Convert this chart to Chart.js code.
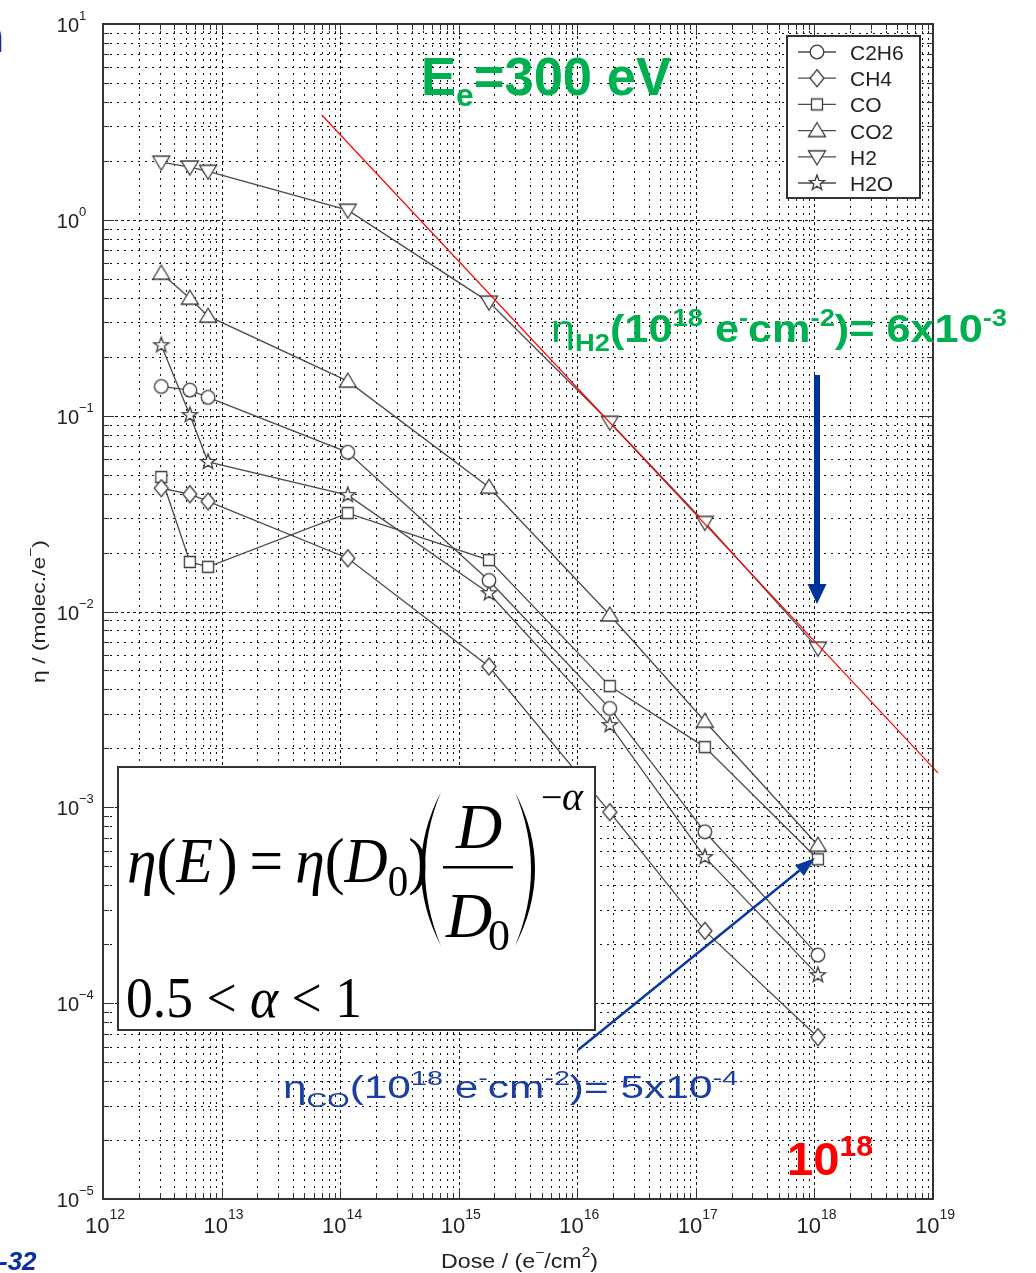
<!DOCTYPE html>
<html>
<head>
<meta charset="utf-8">
<script src="https://cdn.jsdelivr.net/npm/chart.js@4.4.0/dist/chart.umd.min.js"></script>
<style>
  html, body { margin: 0; padding: 0; background: #fff; }
  #wrap { width: 1036px; height: 1273px; }
</style>
</head>
<body>
<div id="wrap"><canvas id="grafico" width="1036" height="1273"></canvas></div>
<script>
// DATI
const dosi = [3.1e12, 5.4e12, 7.7e12, 1.16e14, 1.8e15, 1.88e16, 1.19e17, 1.07e18];
const etaC2H6 = [0.141, 0.135, 0.124, 0.065, 0.0144, 0.0032, 0.00075, 0.000176];
const etaCH4 = [0.0426, 0.0397, 0.0365, 0.0187, 0.00524, 0.000945, 0.000234, 0.000067];
const etaCO = [0.0486, 0.0179, 0.0169, 0.0318, 0.0183, 0.00416, 0.00203, 0.000543];
const etaCO2 = [0.534, 0.398, 0.322, 0.150, 0.0431, 0.0096, 0.00275, 0.00064];
const etaH2 = [1.97, 1.86, 1.77, 1.12, 0.38, 0.0925, 0.0285, 0.0065];
const etaH2O = [0.229, 0.1007, 0.058, 0.0393, 0.0124, 0.00263, 0.000557, 0.000139];
const nomiSerie = ['C2H6', 'CH4', 'CO', 'CO2', 'H2', 'H2O'];
const markerSerie = ['cerchio', 'rombo', 'quadrato', 'triSu', 'triGiu', 'stella'];

// retta rossa (fit H2)
const dosiFit = [7.0e13, 1.1e19];
const etaFit = [3.43, 1.5e-3];

// esponenti delle etichette degli assi
const espX = [12, 13, 14, 15, 16, 17, 18, 19];
const espY = [-5, -4, -3, -2, -1, 0, 1];

const GRIGIO = '#4a4a4a';
const VERDE = '#00b050';

// MARKER STILE MATLAB
function creaMarker(tipo) {
  const c = document.createElement('canvas');
  c.width = 22; c.height = 22;
  const g = c.getContext('2d');
  g.translate(11, 11);
  g.fillStyle = '#fff';
  g.strokeStyle = '#3c3c3c';
  g.lineWidth = 1.3;
  g.beginPath();
  if (tipo === 'cerchio') g.arc(0, 0, 6.8, 0, 2 * Math.PI);
  else if (tipo === 'rombo') { g.moveTo(0, -8.5); g.lineTo(7, 0); g.lineTo(0, 8.5); g.lineTo(-7, 0); g.closePath(); }
  else if (tipo === 'quadrato') g.rect(-5.5, -5.5, 11, 11);
  else if (tipo === 'triSu') { g.moveTo(0, -8); g.lineTo(8.5, 6); g.lineTo(-8.5, 6); g.closePath(); }
  else if (tipo === 'triGiu') { g.moveTo(0, 8); g.lineTo(8.5, -6); g.lineTo(-8.5, -6); g.closePath(); }
  else if (tipo === 'stella') {
    for (let i = 0; i < 10; i++) {
      const r = i % 2 === 0 ? 8 : 3.3;
      const a = -Math.PI / 2 + i * Math.PI / 5;
      if (i === 0) g.moveTo(r * Math.cos(a), r * Math.sin(a));
      else g.lineTo(r * Math.cos(a), r * Math.sin(a));
    }
    g.closePath();
  }
  g.fill();
  g.stroke();
  return c;
}
const immaginiMarker = markerSerie.map(creaMarker);

// TESTO CON PEDICI/APICI, eventualmente adattato a una larghezza
function testoRicco(ctx, x, y, pezzi, colore, larghezza) {
  ctx.save();
  ctx.textAlign = 'left';
  ctx.textBaseline = 'alphabetic';
  let tot = 0;
  pezzi.forEach(p => { ctx.font = p[1]; tot += ctx.measureText(p[0]).width; });
  const sx = larghezza ? larghezza / tot : 1;
  ctx.translate(x, y);
  ctx.scale(sx, 1);
  ctx.fillStyle = colore;
  let cx = 0;
  pezzi.forEach(p => {
    ctx.font = p[1];
    ctx.fillText(p[0], cx, p[2] || 0);
    cx += ctx.measureText(p[0]).width;
  });
  ctx.restore();
  return tot * sx;
}

function freccia(ctx, x0, y0, x1, y1, spessore, lungTesta, largTesta, colore) {
  const dx = x1 - x0, dy = y1 - y0;
  const L = Math.hypot(dx, dy);
  const ux = dx / L, uy = dy / L;
  const bx = x1 - ux * lungTesta, by = y1 - uy * lungTesta;
  ctx.save();
  ctx.strokeStyle = colore; ctx.fillStyle = colore;
  ctx.lineWidth = spessore;
  ctx.setLineDash([]);
  ctx.beginPath(); ctx.moveTo(x0, y0); ctx.lineTo(bx, by); ctx.stroke();
  ctx.beginPath();
  ctx.moveTo(x1, y1);
  ctx.lineTo(bx - uy * largTesta, by + ux * largTesta);
  ctx.lineTo(bx + uy * largTesta, by - ux * largTesta);
  ctx.closePath();
  ctx.fill();
  ctx.restore();
}

// valori 1..9 x 10^e per griglia e tacche
function valoriLog(eMin, eMax) {
  const out = [];
  for (let e = eMin; e < eMax; e++) {
    for (let m = 1; m <= 9; m++) out.push({ v: m * Math.pow(10, e), major: m === 1 });
  }
  out.push({ v: Math.pow(10, eMax), major: true });
  return out;
}

// GRIGLIA (sotto i dati)
const pluginGriglia = {
  id: 'griglia',
  beforeDatasetsDraw(chart) {
    const { ctx, chartArea: a, scales: { x, y } } = chart;
    ctx.save();
    ctx.strokeStyle = '#111';
    ctx.lineWidth = 1;
    valoriLog(12, 19).forEach(t => {
      const px = Math.round(x.getPixelForValue(t.v)) + 0.5;
      ctx.setLineDash(t.major ? [3, 3] : [2, 5]);
      ctx.beginPath(); ctx.moveTo(px, a.top); ctx.lineTo(px, a.bottom); ctx.stroke();
    });
    valoriLog(-5, 1).forEach(t => {
      const py = Math.round(y.getPixelForValue(t.v)) + 0.5;
      ctx.setLineDash(t.major ? [3, 3] : [2, 5]);
      ctx.beginPath(); ctx.moveTo(a.left, py); ctx.lineTo(a.right, py); ctx.stroke();
    });
    ctx.restore();
  }
};

// CORNICE, ETICHETTE, LEGENDA E ANNOTAZIONI
const pluginAnnotazioni = {
  id: 'annotazioni',
  afterDraw(chart) {
    const { ctx, chartArea: a, scales: { x, y } } = chart;
    ctx.save();
    ctx.setLineDash([]);

    // tacche interne sui quattro lati
    ctx.strokeStyle = '#333';
    ctx.lineWidth = 1;
    valoriLog(12, 19).forEach(t => {
      const px = Math.round(x.getPixelForValue(t.v)) + 0.5;
      const L = t.major ? 11 : 6;
      ctx.beginPath();
      ctx.moveTo(px, a.bottom); ctx.lineTo(px, a.bottom - L);
      ctx.moveTo(px, a.top); ctx.lineTo(px, a.top + L);
      ctx.stroke();
    });
    valoriLog(-5, 1).forEach(t => {
      const py = Math.round(y.getPixelForValue(t.v)) + 0.5;
      const L = t.major ? 11 : 6;
      ctx.beginPath();
      ctx.moveTo(a.left, py); ctx.lineTo(a.left + L, py);
      ctx.moveTo(a.right, py); ctx.lineTo(a.right - L, py);
      ctx.stroke();
    });

    // cornice
    ctx.strokeStyle = '#333';
    ctx.lineWidth = 2;
    ctx.strokeRect(a.left, a.top, a.right - a.left, a.bottom - a.top);

    // etichette asse x
    espX.forEach(e => {
      const px = x.getPixelForValue(Math.pow(10, e));
      ctx.font = '22px Arial';
      const w1 = ctx.measureText('10').width;
      ctx.font = '14px Arial';
      const w2 = ctx.measureText(String(e)).width;
      const x0 = px - (w1 + w2) / 2 + 2;
      testoRicco(ctx, x0, a.bottom + 34, [['10', '22px Arial'], [String(e), '14px Arial', -14]], '#222');
    });
    // etichette asse y
    espY.forEach(e => {
      const py = y.getPixelForValue(Math.pow(10, e));
      ctx.font = '20px Arial';
      const w1 = ctx.measureText('10').width;
      const esp = e < 0 ? '\u2212' + Math.abs(e) : String(e);
      testoRicco(ctx, a.left - 24 - w1, py + 8, [['10', '20px Arial'], [esp, '13px Arial', -12]], '#222');
    });

    // titoli assi
    testoRicco(ctx, 441, a.bottom + 69, [
      ['Dose / (e', '21px Arial'], ['\u2212', '14px Arial', -11], ['/cm', '21px Arial'],
      ['2', '14px Arial', -11], [')', '21px Arial']
    ], '#222', 157);
    ctx.save();
    ctx.translate(45, 683);
    ctx.rotate(-Math.PI / 2);
    testoRicco(ctx, 0, 0, [
      ['\u03b7 / (molec./e', '19px Arial'], ['\u2212', '13px Arial', -10], [')', '19px Arial']
    ], '#222', 143);
    ctx.restore();

    // legenda
    const lx0 = a.right - 146, ly0 = a.top + 12, lw = 133, lh = 162;
    ctx.fillStyle = '#fff';
    ctx.fillRect(lx0, ly0, lw, lh);
    ctx.strokeStyle = '#333';
    ctx.lineWidth = 2;
    ctx.strokeRect(lx0, ly0, lw, lh);
    nomiSerie.forEach((nome, i) => {
      const ry = ly0 + 16 + i * 26.2;
      ctx.strokeStyle = GRIGIO;
      ctx.lineWidth = 1.3;
      ctx.beginPath(); ctx.moveTo(lx0 + 11, ry); ctx.lineTo(lx0 + 49, ry); ctx.stroke();
      const im = immaginiMarker[i];
      ctx.drawImage(im, lx0 + 30 - im.width / 2, ry - im.height / 2);
      ctx.fillStyle = '#222';
      ctx.font = '21px Arial';
      ctx.textAlign = 'left';
      ctx.textBaseline = 'alphabetic';
      ctx.fillText(nome, lx0 + 63, ry + 8);
    });

    // riquadro formula
    ctx.fillStyle = '#fff';
    ctx.fillRect(118, 767, 477, 263);
    ctx.strokeStyle = '#333';
    ctx.lineWidth = 2;
    ctx.strokeRect(118, 767, 477, 263);
    const serif = '"Liberation Serif", "Times New Roman", serif';
    const fi = 'italic 64px ' + serif;
    const fr = '64px ' + serif;
    const fs = '44px ' + serif;
    testoRicco(ctx, 127, 882, [
      ['\u03b7', fi], ['(', fr], ['E', fi], ['\u200a)', fr], ['\u2009=\u2009', fr],
      ['\u03b7', fi], ['(', fr], ['D', fi], ['0', fs, 14], [')', fr]
    ], '#000', 301);
    ctx.fillStyle = '#000';
    ctx.textAlign = 'left';
    ctx.textBaseline = 'alphabetic';
    const scrivi = (t, f, px, py) => { ctx.font = f; ctx.fillText(t, px, py); };
    // parentesi grandi
    const parentesi = (xe, xc, y0, y1, verso) => {
      ctx.beginPath();
      ctx.moveTo(xe, y0);
      ctx.quadraticCurveTo(xc, (y0 + y1) / 2, xe, y1);
      ctx.quadraticCurveTo(xc + verso * 8, (y0 + y1) / 2, xe, y0);
      ctx.closePath();
      ctx.fill();
    };
    parentesi(441, 401, 792, 946, 1);
    parentesi(515, 555, 792, 946, -1);
    scrivi('D', fi, 456, 848);
    ctx.fillRect(443, 866, 70, 2.5);
    scrivi('D', fi, 446, 937);
    scrivi('0', fs, 488, 950);
    scrivi('\u2212', '38px ' + serif, 541, 810);
    scrivi('\u03b1', 'italic 40px ' + serif, 562, 810);
    testoRicco(ctx, 126, 1017, [
      ['0.5 < ', '56px ' + serif],
      ['\u03b1', 'italic 56px ' + serif],
      [' < 1', '56px ' + serif]
    ], '#000', 236);

    // titolo energia
    testoRicco(ctx, 421, 95, [
      ['E', 'bold 53px Arial'], ['e', 'bold 32px Arial', 11], ['=300 eV', 'bold 53px Arial']
    ], VERDE, 250);

    // eta H2
    testoRicco(ctx, 551, 342, [
      ['\u03b7', '38px Arial'], ['H2', 'bold 24px Arial', 9], ['(10', 'bold 38px Arial'],
      ['18', 'bold 24px Arial', -16], [' e', 'bold 38px Arial'], ['-', 'bold 24px Arial', -16],
      ['cm', 'bold 38px Arial'], ['-2', 'bold 24px Arial', -16], [')= 6x10', 'bold 38px Arial'],
      ['-3', 'bold 24px Arial', -16]
    ], VERDE, 456);

    // freccia verticale blu
    freccia(ctx, 817, 375, 817, 604, 6, 20, 9.5, '#003399');

    // eta CO
    testoRicco(ctx, 283, 1098, [
      ['\u03b7', '31px Arial'], ['CO', '21px Arial', 9], ['(10', '31px Arial'],
      ['18', '21px Arial', -13], [' e', '31px Arial'], ['-', '21px Arial', -13],
      ['cm', '31px Arial'], ['-2', '21px Arial', -13], [')= 5x10', '31px Arial'],
      ['-4', '21px Arial', -13]
    ], '#1a3fa0', 455);

    // freccia obliqua
    freccia(ctx, 578, 1050, 815, 858, 2.5, 20, 7, '#0b3a9e');

    // 10^18 rosso
    testoRicco(ctx, 787, 1175, [['10', 'bold 47px Arial'], ['18', 'bold 30px Arial', -19]], '#ff0000', 86);

    // frammenti di testo della slide
    ctx.fillStyle = '#0a2f9e';
    ctx.font = 'bold 46px Arial';
    ctx.textAlign = 'right';
    ctx.fillText('n', 4, 52);
    ctx.textAlign = 'left';
    ctx.font = 'bold italic 26px Arial';
    ctx.fillText('-32', -1, 1270);

    ctx.restore();
  }
};

function serie(valori, i) {
  return {
    label: nomiSerie[i],
    data: dosi.map((d, k) => ({ x: d, y: valori[k] })),
    borderColor: GRIGIO,
    borderWidth: 1.3,
    pointStyle: immaginiMarker[i],
    pointRadius: 7,
    fill: false,
    tension: 0,
    order: 1
  };
}

const ctx = document.getElementById('grafico').getContext('2d');
const chart = new Chart(ctx, {
  type: 'line',
  data: {
    datasets: [
      serie(etaC2H6, 0), serie(etaCH4, 1), serie(etaCO, 2),
      serie(etaCO2, 3), serie(etaH2, 4), serie(etaH2O, 5),
      {
        label: 'fit',
        data: dosiFit.map((d, k) => ({ x: d, y: etaFit[k] })),
        borderColor: '#ff0000',
        borderWidth: 1.2,
        pointRadius: 0,
        clip: false,
        order: 0
      }
    ]
  },
  options: {
    responsive: false,
    animation: false,
    layout: { padding: { left: 103, top: 24, right: 103, bottom: 74 } },
    plugins: { legend: { display: false }, tooltip: { enabled: false } },
    scales: {
      x: { type: 'logarithmic', min: 1e12, max: 1e19, display: false },
      y: { type: 'logarithmic', min: 1e-5, max: 10, display: false }
    }
  },
  plugins: [pluginGriglia, pluginAnnotazioni]
});
</script>
</body>
</html>
